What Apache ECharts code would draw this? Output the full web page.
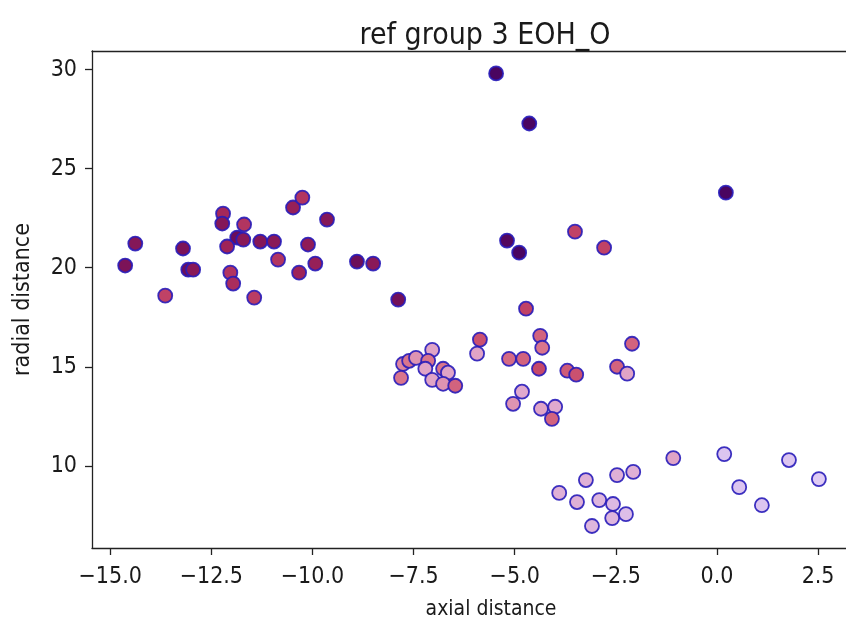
<!DOCTYPE html>
<html>
<head>
<meta charset="utf-8">
<style>
  html, body { margin: 0; padding: 0; background: #ffffff; }
  #chart { width: 846px; height: 619px; }
</style>
<script src="https://cdn.jsdelivr.net/npm/echarts@6/dist/echarts.min.js"></script>
</head>
<body>
<div id="chart"></div>
<script>
// Axial position of each sample
const axial = [
  -14.38, -14.63, -13.64, -13.20, -13.07, -12.95, -12.21, -12.23, -11.69, -11.86,
  -11.71, -12.11, -11.29, -10.95, -10.85, -12.03, -11.96, -11.44, -10.48, -10.25,
  -9.64, -10.11, -9.93, -10.33, -8.90, -8.50, -7.88,
  -5.46, -4.64, 0.22, -5.19, -4.89, -3.51, -2.79, -4.72,
  -5.86, -5.93, -5.14, -4.79, -4.37, -4.32, -4.40, -3.70, -3.48, -2.10, -2.47, -2.22,
  -4.82, -5.04, -4.35, -4.00, -4.08,
  -7.76, -7.61, -7.81, -7.44, -7.04, -7.14, -7.21, -6.77, -6.65, -7.04, -6.77, -6.47,
  -1.08, 0.18, 1.78, 2.52, 0.55, 1.11,
  -3.24, -2.47, -2.07, -3.90, -3.46, -2.91, -2.57, -2.59, -2.25, -3.09
];
// Radial position of each sample
const radial = [
  21.22, 20.11, 18.59, 20.97, 19.90, 19.90, 22.73, 22.23, 22.18, 21.52,
  21.42, 21.07, 21.32, 21.32, 20.41, 19.75, 19.20, 18.49, 23.04, 23.54,
  22.43, 21.17, 20.21, 19.75, 20.31, 20.21, 18.39,
  29.81, 27.28, 23.79, 21.37, 20.76, 21.82, 21.01, 17.93,
  16.37, 15.66, 15.40, 15.40, 16.56, 15.96, 14.90, 14.80, 14.60, 16.16, 15.00, 14.65,
  13.74, 13.13, 12.88, 12.98, 12.37,
  15.14, 15.30, 14.44, 15.45, 15.85, 15.30, 14.90, 14.90, 14.70, 14.34, 14.14, 14.04,
  10.39, 10.59, 10.29, 9.33, 8.92, 8.01,
  9.28, 9.53, 9.69, 8.63, 8.17, 8.27, 8.07, 7.36, 7.56, 6.96
];
// Colour value of each sample (0 = light, 1 = dark)
const shade = [
  0.82, 0.85, 0.60, 0.85, 0.90, 0.80, 0.70, 0.82, 0.65, 0.90,
  0.80, 0.72, 0.82, 0.80, 0.65, 0.65, 0.68, 0.62, 0.75, 0.65,
  0.82, 0.78, 0.75, 0.72, 0.90, 0.80, 0.88,
  1.00, 1.00, 1.00, 0.97, 1.00, 0.60, 0.60, 0.60,
  0.55, 0.30, 0.48, 0.50, 0.50, 0.45, 0.58, 0.52, 0.55, 0.50, 0.50, 0.30,
  0.28, 0.35, 0.30, 0.28, 0.50,
  0.40, 0.45, 0.45, 0.35, 0.30, 0.45, 0.30, 0.45, 0.30, 0.30, 0.35, 0.50,
  0.30, 0.15, 0.15, 0.12, 0.15, 0.15,
  0.25, 0.25, 0.25, 0.25, 0.25, 0.22, 0.20, 0.22, 0.18, 0.22
];

const xTicks = [-15.0, -12.5, -10.0, -7.5, -5.0, -2.5, 0.0, 2.5];
const yTicks = [10, 15, 20, 25, 30];

const points = axial.map((x, i) => [x, radial[i], shade[i]]);

const FONT = "'DejaVu Sans Condensed', 'DejaVu Sans', sans-serif";
const INK = '#1a1a1a';
const minus = s => String(s).replace('-', '\u2212');

const X_MIN = -15.45, X_MAX = 3.19;
const lineStyle = { color: '#222222', width: 1.3 };

const chart = echarts.init(document.getElementById('chart'), null, { renderer: 'canvas' });
chart.setOption({
  animation: false,
  backgroundColor: '#ffffff',
  title: [
    {
      text: 'ref group 3 EOH_O',
      left: 480, top: 16, textAlign: 'center',
      textStyle: { fontFamily: FONT, fontSize: 30, fontWeight: 'normal', color: INK }
    },
    {
      text: 'axial distance',
      left: 486, top: 594, textAlign: 'center',
      textStyle: { fontFamily: FONT, fontSize: 21, fontWeight: 'normal', color: INK }
    }
  ],
  grid: { left: 92, top: 51, right: 0, bottom: 71, show: false },
  visualMap: {
    show: false,
    dimension: 2,
    min: 0, max: 1,
    inRange: {
      color: ['#f0e8ff', '#dcc6f2', '#e0a8cc', '#dc7c92', '#c84a6a', '#a02458', '#7a1258', '#4a0560']
    }
  },
  xAxis: [
    {
      type: 'value',
      min: X_MIN, max: X_MAX,
      splitLine: { show: false },
      axisLine: { show: true, onZero: false, lineStyle },
      axisTick: { show: true, length: 7, customValues: xTicks, lineStyle },
      axisLabel: {
        customValues: xTicks, margin: 18,
        fontFamily: FONT, fontSize: 23, color: INK,
        formatter: v => minus(Number(v).toFixed(1))
      }
    },
    {
      // top edge of the plotting frame
      type: 'value', position: 'top',
      min: X_MIN, max: X_MAX,
      splitLine: { show: false },
      axisLine: { show: true, onZero: false, lineStyle },
      axisTick: { show: false },
      axisLabel: { show: false }
    }
  ],
  yAxis: {
    type: 'value',
    min: 5.85, max: 30.94,
    name: 'radial distance',
    nameLocation: 'middle',
    nameGap: 57,
    nameTextStyle: { fontFamily: FONT, fontSize: 23, color: INK },
    splitLine: { show: false },
    axisLine: { show: true, onZero: false, lineStyle },
    axisTick: { show: true, length: 7, customValues: yTicks, lineStyle },
    axisLabel: {
      customValues: yTicks, margin: 15,
      fontFamily: FONT, fontSize: 23, color: INK,
      formatter: v => minus(v)
    }
  },
  series: [{
    type: 'scatter',
    xAxisIndex: 0,
    data: points,
    symbol: 'circle',
    symbolSize: 14,
    itemStyle: { borderColor: 'rgba(40, 28, 185, 0.9)', borderWidth: 1.8, opacity: 1 }
  }]
});
</script>
</body>
</html>
